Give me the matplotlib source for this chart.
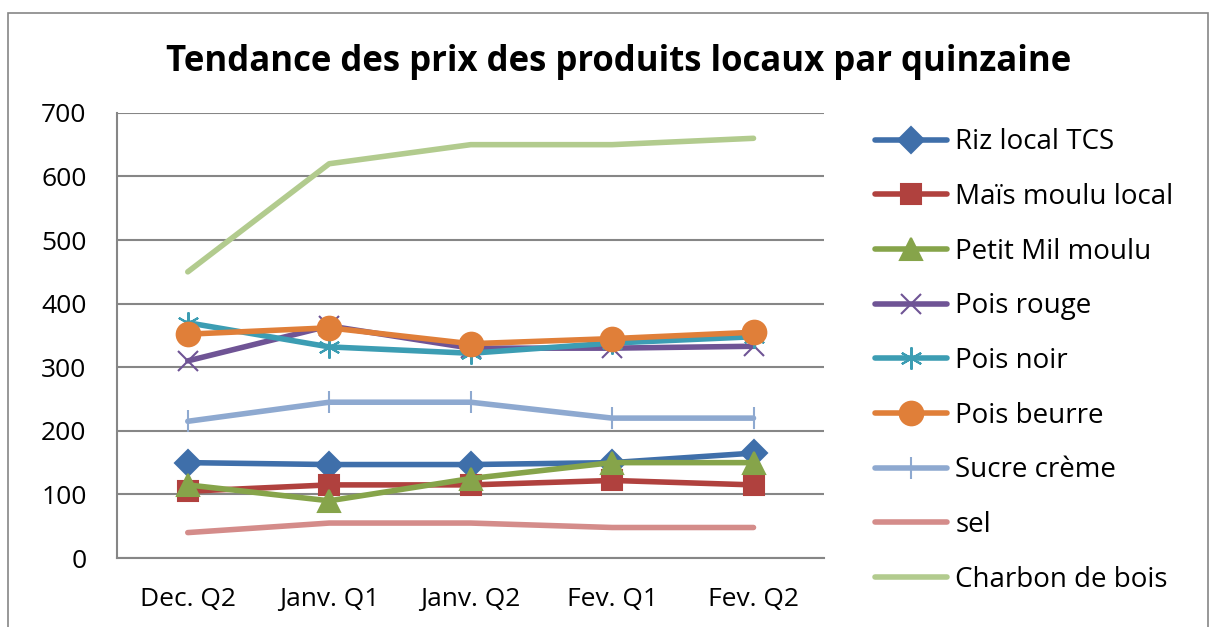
import matplotlib.pyplot as plt
from matplotlib.patches import Rectangle

plt.rcParams['font.family'] = ['Open Sans', 'DejaVu Sans']

# Data
periods = ['Dec. Q2', 'Janv. Q1', 'Janv. Q2', 'Fev. Q1', 'Fev. Q2']
riz = [150, 147, 147, 150, 165]
mais = [105, 115, 115, 122, 115]
mil = [115, 90, 125, 150, 150]
pois_rouge = [310, 365, 330, 330, 333]
pois_noir = [370, 332, 322, 338, 348]
pois_beurre = [352, 362, 337, 345, 355]
sucre = [215, 245, 245, 220, 220]
sel = [40, 55, 55, 48, 48]
charbon = [450, 620, 650, 650, 660]

series = [
    ('Riz local TCS', riz, '#3F6FAA', 'D', 13),
    ('Maïs moulu local', mais, '#B0413E', 's', 15),
    ('Petit Mil moulu', mil, '#86A44A', '^', 16),
    ('Pois rouge', pois_rouge, '#6F5495', 'x', 14),
    ('Pois noir', pois_noir, '#3C9DB3', (6, 2, 0), 16),
    ('Pois beurre', pois_beurre, '#E07F39', 'o', 17),
    ('Sucre crème', sucre, '#8EA9D0', '|', 16),
    ('sel', sel, '#D48C8A', None, 0),
    ('Charbon de bois', charbon, '#B2CB8E', None, 0),
]

fig = plt.figure(figsize=(12.13, 6.27), dpi=100)
ax = fig.add_axes([0.0965, 0.110, 0.583, 0.710])

x = list(range(len(periods)))
handles = []
for name, vals, color, marker, ms in series:
    kw = dict(color=color, lw=4, label=name, solid_capstyle='round')
    if marker is not None:
        kw.update(marker=marker, markersize=ms, markerfacecolor=color,
                  markeredgecolor=color, markeredgewidth=1.5)
    line, = ax.plot(x, vals, **kw)
    handles.append(line)

ax.set_xlim(-0.5, len(periods) - 0.5)
ax.set_ylim(0, 700)
ax.set_yticks(range(0, 701, 100))
ax.set_xticks(x)
ax.set_xticklabels(periods)
ax.tick_params(axis='y', labelsize=19, length=0, pad=22, colors='black')
ax.tick_params(axis='x', labelsize=19, length=0, pad=21, colors='black')
ax.grid(axis='y', color='#868686', lw=1.5)
ax.set_axisbelow(True)
for s in ['top', 'right']:
    ax.spines[s].set_visible(False)
for s in ['left', 'bottom']:
    ax.spines[s].set_color('#868686')
    ax.spines[s].set_linewidth(1.5)

fig.suptitle('Tendance des prix des produits locaux par quinzaine',
             x=0.51, y=0.93, fontsize=25, fontweight='bold')

fig.legend(handles=handles, loc='upper left', bbox_to_anchor=(0.712, 0.813),
           frameon=False, fontsize=20, handlelength=2.6, labelspacing=0.96,
           handletextpad=0.3, borderaxespad=0)

fig.patches.append(Rectangle((0.0066, -0.01), 0.989, 0.99, transform=fig.transFigure,
                             fill=False, edgecolor='#868686', lw=1.2))

fig.savefig('out.png', dpi=100)
